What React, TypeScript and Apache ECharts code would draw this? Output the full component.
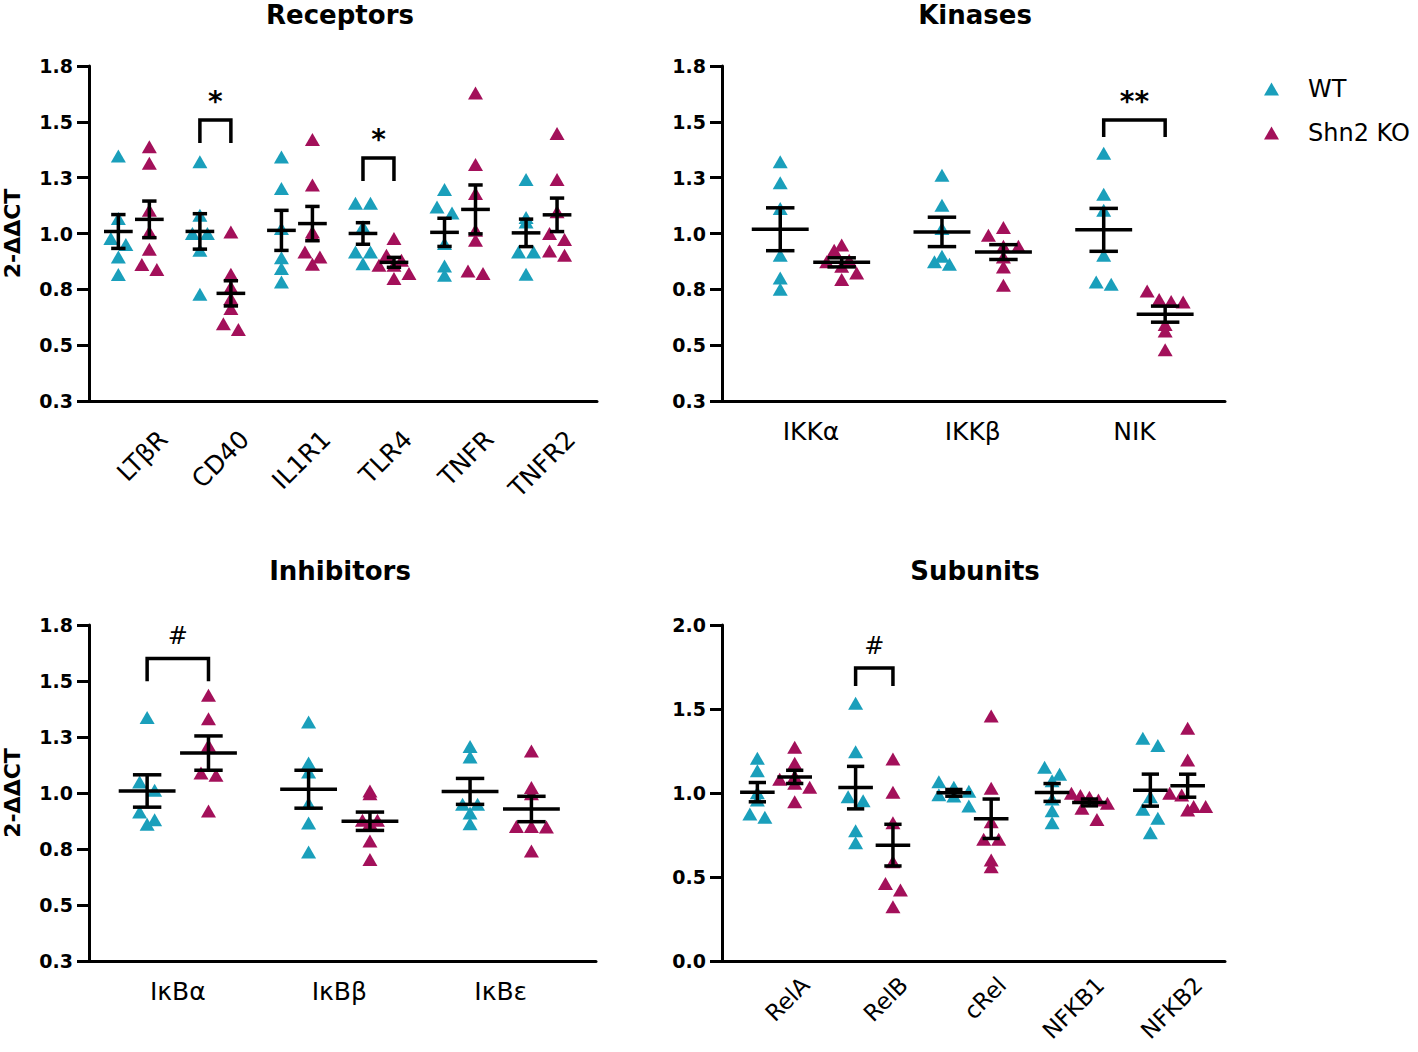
import React, { useEffect, useRef } from "react";
import * as echarts from "echarts";

// ---------- colours ----------
const CYAN = "#1a9fbb";
const MAGENTA = "#a3105a";

// ---------- data (2-ΔΔCT values, one array per gene) ----------
const receptorCats = ["LTβR", "CD40", "IL1R1", "TLR4", "TNFR", "TNFR2"];
const receptorWT = [
  [1.347, 1.067, 0.978, 0.951, 0.895, 0.816],
  [1.321, 1.082, 1.0, 1.0, 0.925, 0.728],
  [1.343, 1.202, 1.022, 0.891, 0.843, 0.783],
  [1.136, 1.136, 1.03, 0.917, 0.917, 0.865],
  [1.197, 1.119, 1.092, 0.955, 0.855, 0.813],
  [1.242, 1.072, 1.052, 0.917, 0.917, 0.817],
];
const receptorKO = [
  [1.388, 1.314, 1.104, 1.007, 0.93, 0.861, 0.839],
  [1.007, 0.817, 0.761, 0.709, 0.664, 0.596, 0.57],
  [1.421, 1.217, 1.007, 0.992, 0.917, 0.895, 0.862],
  [0.978, 0.903, 0.88, 0.858, 0.858, 0.821, 0.798],
  [1.629, 1.309, 1.179, 1.015, 0.97, 0.832, 0.821],
  [1.448, 1.242, 1.097, 1.0, 0.973, 0.922, 0.903],
];

const kinaseCats = ["IKKα", "IKKβ", "NIK"];
const kinaseWT = [
  [1.321, 1.227, 1.112, 0.903, 0.801, 0.75],
  [1.261, 1.127, 1.022, 0.898, 0.873, 0.862],
  [1.359, 1.176, 1.104, 0.903, 0.783, 0.773],
];
const kinaseKO = [
  [0.948, 0.925, 0.88, 0.873, 0.853, 0.823, 0.794],
  [1.027, 0.992, 0.943, 0.943, 0.895, 0.85, 0.768],
  [0.743, 0.704, 0.696, 0.693, 0.593, 0.563, 0.48],
];

const inhibitorCats = ["IκBα", "IκBβ", "IκBε"];
const inhibitorWT = [
  [1.337, 1.049, 1.012, 0.915, 0.881, 0.86],
  [1.317, 1.134, 1.094, 0.953, 0.866, 0.737],
  [1.208, 1.161, 0.95, 0.95, 0.911, 0.863],
];
const inhibitorKO = [
  [1.436, 1.332, 1.213, 1.089, 1.079, 0.92],
  [1.009, 0.997, 0.878, 0.878, 0.866, 0.786, 0.703],
  [1.188, 1.024, 0.997, 0.851, 0.851, 0.848, 0.741],
];

const subunitCats = ["RelA", "RelB", "cRel", "NFKB1", "NFKB2"];
const subunitWT = [
  [1.207, 1.133, 1.002, 0.958, 0.875, 0.855],
  [1.534, 1.246, 0.978, 0.954, 0.776, 0.704],
  [1.067, 1.034, 1.01, 0.99, 0.982, 0.923],
  [1.153, 1.111, 1.073, 0.964, 0.895, 0.823],
  [1.326, 1.282, 0.978, 0.903, 0.849, 0.764],
];
const subunitKO = [
  [1.272, 1.177, 1.1, 1.082, 1.058, 1.034, 0.948],
  [1.202, 1.004, 0.823, 0.591, 0.462, 0.423, 0.323],
  [1.458, 1.028, 0.829, 0.725, 0.725, 0.601, 0.561],
  [0.998, 0.985, 0.975, 0.958, 0.939, 0.909, 0.843],
  [1.385, 1.196, 0.998, 0.988, 0.919, 0.919, 0.899],
];

// significance brackets: category index, bracket top, leg bottom, label
const receptorSig = [
  { cat: 1, top: 1.508, leg: 1.405, label: "*" },
  { cat: 3, top: 1.338, leg: 1.235, label: "*" },
];
const kinaseSig = [{ cat: 2, top: 1.508, leg: 1.432, label: "**" }];
const inhibitorSig = [{ cat: 0, top: 1.601, leg: 1.499, label: "#" }];
const subunitSig = [{ cat: 1, top: 1.744, leg: 1.637, label: "#" }];

// tick labels
const yTicksA = [0.25, 0.5, 0.75, 1.0, 1.25, 1.5, 1.75];
const yTickLabelsA = ["0.3", "0.5", "0.8", "1.0", "1.3", "1.5", "1.8"];
const yTicksB = [0, 0.5, 1.0, 1.5, 2.0];
const yTickLabelsB = ["0.0", "0.5", "1.0", "1.5", "2.0"];

const groupNames = ["WT", "Shn2 KO"];
const yAxisTitle = "2-ΔΔCT";

// ---------- layout / style constants ----------
const FONT = "DejaVu Sans";
const GROUP_OFF = 0.19;
const MEAN_HALF = 0.176;
const CAP_HALF = 0.088;
const MARK_W = 15;
const MARK_H = 13;
const BIN_PX = 14;
const MAX_SPREAD_PX = 36;

type Sig = { cat: number; top: number; leg: number; label: string };
type Panel = {
  title: string;
  cats: string[];
  wt: number[][];
  ko: number[][];
  grid: { left: number; top: number; width: number; height: number };
  xMin: number;
  xMax: number;
  yMin: number;
  yMax: number;
  yStep: number;
  ticks: number[];
  tickLabels: string[];
  rotate: boolean;
  labelShift: number;
  labelMargin: number;
  labelSize: number;
  sig: Sig[];
  yName: boolean;
  titleX: number;
  titleY: number;
};

const panels: Panel[] = [
  {
    title: "Receptors", cats: receptorCats, wt: receptorWT, ko: receptorKO,
    grid: { left: 89, top: 66, width: 508, height: 335 },
    xMin: -0.55, xMax: 5.68, yMin: 0.25, yMax: 1.75, yStep: 0.25,
    ticks: yTicksA, tickLabels: yTickLabelsA, rotate: true, labelShift: 0.36, labelMargin: 34, labelSize: 25,
    sig: receptorSig, yName: true, titleX: 340, titleY: 15,
  },
  {
    title: "Kinases", cats: kinaseCats, wt: kinaseWT, ko: kinaseKO,
    grid: { left: 722, top: 66, width: 503, height: 335 },
    xMin: -0.55, xMax: 2.56, yMin: 0.25, yMax: 1.75, yStep: 0.25,
    ticks: yTicksA, tickLabels: yTickLabelsA, rotate: false, labelShift: 0, labelMargin: 18, labelSize: 25,
    sig: kinaseSig, yName: false, titleX: 975, titleY: 15,
  },
  {
    title: "Inhibitors", cats: inhibitorCats, wt: inhibitorWT, ko: inhibitorKO,
    grid: { left: 89, top: 625, width: 507, height: 336 },
    xMin: -0.55, xMax: 2.59, yMin: 0.25, yMax: 1.75, yStep: 0.25,
    ticks: yTicksA, tickLabels: yTickLabelsA, rotate: false, labelShift: 0, labelMargin: 18, labelSize: 25,
    sig: inhibitorSig, yName: true, titleX: 340, titleY: 571,
  },
  {
    title: "Subunits", cats: subunitCats, wt: subunitWT, ko: subunitKO,
    grid: { left: 722, top: 625, width: 503, height: 336 },
    xMin: -0.55, xMax: 4.57, yMin: 0, yMax: 2.0, yStep: 0.5,
    ticks: yTicksB, tickLabels: yTickLabelsB, rotate: true, labelShift: 0.3, labelMargin: 20, labelSize: 23,
    sig: subunitSig, yName: false, titleX: 975, titleY: 571,
  },
];

function meanSem(vals: number[]) {
  const n = vals.length;
  const m = vals.reduce((a, b) => a + b, 0) / n;
  const v = vals.reduce((a, b) => a + (b - m) * (b - m), 0) / (n - 1);
  return [m, Math.sqrt(v / n)];
}

// Prism-like column scatter: points in the same vertical bin are spread side by side
function swarm(vals: number[], center: number, p: Panel) {
  const pxX = p.grid.width / (p.xMax - p.xMin);
  const pxY = p.grid.height / (p.yMax - p.yMin);
  const bin = BIN_PX / pxY;
  const bins = new Map<number, number[]>();
  vals.forEach((v) => {
    const k = Math.floor((v - p.yMin) / bin);
    if (!bins.has(k)) bins.set(k, []);
    bins.get(k)!.push(v);
  });
  const out: number[][] = [];
  bins.forEach((list) => {
    const k = list.length;
    const step = k > 1 ? Math.min(MARK_W, MAX_SPREAD_PX / (k - 1)) : 0;
    list.forEach((v, j) => {
      out.push([center + ((j - (k - 1) / 2) * step) / pxX, v]);
    });
  });
  return out;
}

function buildOption() {
  const grid: any[] = [];
  const xAxis: any[] = [];
  const yAxis: any[] = [];
  const series: any[] = [];
  const graphic: any[] = [];

  panels.forEach((p, gi) => {
    grid.push({ ...p.grid, containLabel: false, outerBoundsMode: "none" });
    const custom = p.cats.map((_, i) => i + p.labelShift);
    xAxis.push({
      type: "value",
      gridIndex: gi,
      min: p.xMin,
      max: p.xMax,
      axisLine: { show: true, onZero: false, lineStyle: { color: "#000", width: 3 } },
      axisTick: { show: false },
      splitLine: { show: false },
      axisLabel: {
        customValues: custom,
        formatter: (v: number) => p.cats[Math.round(v - p.labelShift)] ?? "",
        rotate: p.rotate ? 45 : 0,
        margin: p.labelMargin,
        color: "#000",
        fontFamily: FONT,
        fontSize: p.labelSize,
      },
    });
    yAxis.push({
      type: "value",
      gridIndex: gi,
      min: p.yMin,
      max: p.yMax,
      interval: p.yStep,
      name: p.yName ? yAxisTitle : "",
      nameLocation: "middle",
      nameRotate: 90,
      nameGap: 66,
      nameTextStyle: { color: "#000", fontFamily: FONT, fontWeight: "bold", fontSize: 22 },
      axisLine: { show: true, onZero: false, lineStyle: { color: "#000", width: 3 } },
      axisTick: { show: true, length: 12, lineStyle: { color: "#000", width: 3 } },
      splitLine: { show: false },
      axisLabel: {
        margin: 16,
        color: "#000",
        fontFamily: FONT,
        fontWeight: "bold",
        fontSize: 19,
        formatter: (v: number) => {
          const i = p.ticks.findIndex((t) => Math.abs(t - v) < 1e-6);
          return i >= 0 ? p.tickLabels[i] : "";
        },
      },
    });

    const wtPts: number[][] = [];
    const koPts: number[][] = [];
    const bars: number[][] = [];
    p.cats.forEach((_, i) => {
      wtPts.push(...swarm(p.wt[i], i - GROUP_OFF, p));
      koPts.push(...swarm(p.ko[i], i + GROUP_OFF, p));
      bars.push([i - GROUP_OFF, ...meanSem(p.wt[i])]);
      bars.push([i + GROUP_OFF, ...meanSem(p.ko[i])]);
    });

    series.push({
      type: "scatter", name: groupNames[0], xAxisIndex: gi, yAxisIndex: gi,
      data: wtPts, symbol: "triangle", symbolSize: [MARK_W, MARK_H],
      itemStyle: { color: CYAN, opacity: 1 }, z: 2,
    });
    series.push({
      type: "scatter", name: groupNames[1], xAxisIndex: gi, yAxisIndex: gi,
      data: koPts, symbol: "triangle", symbolSize: [MARK_W, MARK_H],
      itemStyle: { color: MAGENTA, opacity: 1 }, z: 2,
    });
    series.push({
      type: "custom", name: "sem" + gi, xAxisIndex: gi, yAxisIndex: gi,
      data: bars, z: 4, silent: true,
      renderItem: (_params: any, api: any) => {
        const x = api.value(0), m = api.value(1), s = api.value(2);
        const st = { stroke: "#000", lineWidth: 3.5 };
        const seg = (a: number[], b: number[]) => ({
          type: "line",
          shape: { x1: a[0], y1: a[1], x2: b[0], y2: b[1] },
          style: st,
        });
        return {
          type: "group",
          children: [
            seg(api.coord([x - MEAN_HALF, m]), api.coord([x + MEAN_HALF, m])),
            seg(api.coord([x, m - s]), api.coord([x, m + s])),
            seg(api.coord([x - CAP_HALF, m + s]), api.coord([x + CAP_HALF, m + s])),
            seg(api.coord([x - CAP_HALF, m - s]), api.coord([x + CAP_HALF, m - s])),
          ],
        };
      },
    });
    if (p.sig.length) {
      series.push({
        type: "custom", name: "sig" + gi, xAxisIndex: gi, yAxisIndex: gi,
        data: p.sig.map((s) => [s.cat, s.top, s.leg]), z: 4, silent: true,
        renderItem: (params: any, api: any) => {
          const c = api.value(0), top = api.value(1), leg = api.value(2);
          const lab = p.sig[params.dataIndex].label;
          const a = api.coord([c - GROUP_OFF, leg]);
          const b = api.coord([c - GROUP_OFF, top]);
          const d = api.coord([c + GROUP_OFF, top]);
          const e = api.coord([c + GROUP_OFF, leg]);
          const isStar = lab.indexOf("*") >= 0;
          return {
            type: "group",
            children: [
              {
                type: "polyline",
                shape: { points: [a, b, d, e] },
                style: { stroke: "#000", lineWidth: 3.5, fill: "none" },
              },
              {
                type: "text",
                x: (b[0] + d[0]) / 2,
                y: b[1] - (isStar ? 5 : 10),
                style: {
                  text: lab,
                  fill: "#000",
                  font: isStar ? `bold 28px "${FONT}"` : `24px "${FONT}"`,
                  align: "center",
                  verticalAlign: "bottom",
                  textAlign: "center",
                  textVerticalAlign: "bottom",
                },
              },
            ],
          };
        },
      });
    }

    graphic.push({
      type: "text",
      x: p.titleX,
      y: p.titleY,
      style: {
        text: p.title,
        fill: "#000",
        font: `bold 26px "${FONT}"`,
        align: "center",
        verticalAlign: "middle",
        textAlign: "center",
        textVerticalAlign: "middle",
      },
    });
  });

  return {
    animation: false,
    backgroundColor: "#fff",
    grid,
    xAxis,
    yAxis,
    series,
    graphic,
    legend: {
      data: groupNames.map((n) => ({ name: n, icon: "triangle" })),
      orient: "vertical",
      left: 1264,
      top: 74,
      padding: 0,
      itemWidth: MARK_W,
      itemHeight: MARK_H,
      itemGap: 14,
      textStyle: {
        fontFamily: FONT,
        fontSize: 24,
        color: "#000",
        lineHeight: 30,
        padding: [0, 0, 0, 24],
      },
    },
  };
}

export default function App() {
  const ref = useRef<HTMLDivElement>(null);
  useEffect(() => {
    const chart = echarts.init(ref.current!, undefined, { renderer: "svg" });
    chart.setOption(buildOption() as any);
    return () => chart.dispose();
  }, []);
  return (
    <div
      ref={ref}
      style={{ position: "fixed", left: 0, top: 0, width: 1418, height: 1052, background: "#fff" }}
    />
  );
}
